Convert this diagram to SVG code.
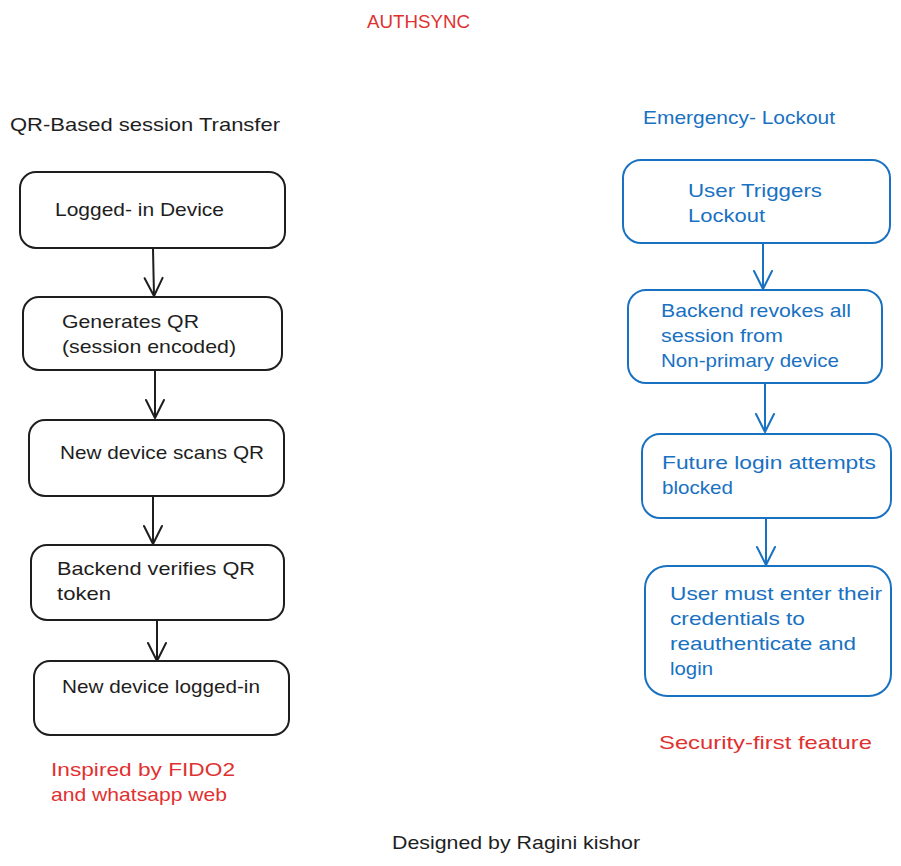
<svg xmlns="http://www.w3.org/2000/svg" width="901" height="866" viewBox="0 0 901 866">
<style>
text{font-family:"Liberation Sans","Noto Sans",sans-serif;font-size:19px;}
.k{fill:#1e1e1e}.b{fill:#1971c2}.r{fill:#e03131}
.bk{fill:#fff;stroke:#1e1e1e;stroke-width:2}
.bb{fill:#fff;stroke:#1971c2;stroke-width:2}
.ck{stroke:#1e1e1e;stroke-width:2;fill:none}
.cb{stroke:#1971c2;stroke-width:2;fill:none}
</style>
<defs>
<marker id="ak" markerUnits="userSpaceOnUse" markerWidth="24" markerHeight="24" viewBox="-21 -12 24 24" refX="0" refY="0" orient="auto">
<path d="M-18,-9 L0,0 L-18,9" fill="none" stroke="#1e1e1e" stroke-width="2" stroke-linecap="round" stroke-linejoin="round"/>
</marker>
<marker id="ab" markerUnits="userSpaceOnUse" markerWidth="24" markerHeight="24" viewBox="-21 -12 24 24" refX="0" refY="0" orient="auto">
<path d="M-18,-9 L0,0 L-18,9" fill="none" stroke="#1971c2" stroke-width="2" stroke-linecap="round" stroke-linejoin="round"/>
</marker>
</defs>
<rect width="901" height="866" fill="#fff"/>
<text class="r" x="367" y="28" textLength="103" lengthAdjust="spacingAndGlyphs">AUTHSYNC</text>
<text class="k" x="10" y="131" textLength="270" lengthAdjust="spacingAndGlyphs">QR-Based session Transfer</text>
<text class="b" x="643" y="124" textLength="192" lengthAdjust="spacingAndGlyphs">Emergency- Lockout</text>

<g id="connectors">
<path class="ck" d="M153,249 L154,296" marker-end="url(#ak)"/>
<path class="ck" d="M155,371 L155,418" marker-end="url(#ak)"/>
<path class="ck" d="M153,497 L153,544" marker-end="url(#ak)"/>
<path class="ck" d="M157,621 L157,661" marker-end="url(#ak)"/>
<path class="cb" d="M763,244 L763,289" marker-end="url(#ab)"/>
<path class="cb" d="M765,384 L765,432" marker-end="url(#ab)"/>
<path class="cb" d="M766,519 L766,565" marker-end="url(#ab)"/>
</g>

<g id="n1"><rect class="bk" x="20" y="172" width="265" height="76" rx="16"/>
<text class="k" x="55" y="216" textLength="169" lengthAdjust="spacingAndGlyphs">Logged- in Device</text></g>
<g id="n2"><rect class="bk" x="23" y="297" width="259" height="73" rx="16"/>
<text class="k" x="62" y="328" textLength="137" lengthAdjust="spacingAndGlyphs">Generates QR</text>
<text class="k" x="62" y="353" textLength="174" lengthAdjust="spacingAndGlyphs">(session encoded)</text></g>
<g id="n3"><rect class="bk" x="29" y="420" width="255" height="76" rx="16"/>
<text class="k" x="60" y="459" textLength="204" lengthAdjust="spacingAndGlyphs">New device scans QR</text></g>
<g id="n4"><rect class="bk" x="31" y="545" width="253" height="75" rx="16"/>
<text class="k" x="57" y="575" textLength="198" lengthAdjust="spacingAndGlyphs">Backend verifies QR</text>
<text class="k" x="57" y="600" textLength="54" lengthAdjust="spacingAndGlyphs">token</text></g>
<g id="n5"><rect class="bk" x="34" y="661" width="255" height="74" rx="16"/>
<text class="k" x="62" y="693" textLength="198" lengthAdjust="spacingAndGlyphs">New device logged-in</text></g>

<g id="m1"><rect class="bb" x="623" y="160" width="267" height="83" rx="18"/>
<text class="b" x="688" y="197" textLength="134" lengthAdjust="spacingAndGlyphs">User Triggers</text>
<text class="b" x="688" y="222" textLength="77" lengthAdjust="spacingAndGlyphs">Lockout</text></g>
<g id="m2"><rect class="bb" x="628" y="290" width="254" height="93" rx="18"/>
<text class="b" x="661" y="317" textLength="190" lengthAdjust="spacingAndGlyphs">Backend revokes all</text>
<text class="b" x="661" y="342" textLength="122" lengthAdjust="spacingAndGlyphs">session from</text>
<text class="b" x="661" y="367" textLength="178" lengthAdjust="spacingAndGlyphs">Non-primary device</text></g>
<g id="m3"><rect class="bb" x="642" y="434" width="249" height="84" rx="18"/>
<text class="b" x="662" y="469" textLength="214" lengthAdjust="spacingAndGlyphs">Future login attempts</text>
<text class="b" x="662" y="494" textLength="71" lengthAdjust="spacingAndGlyphs">blocked</text></g>
<g id="m4"><rect class="bb" x="645" y="566" width="246" height="130" rx="22"/>
<text class="b" x="670" y="600" textLength="212" lengthAdjust="spacingAndGlyphs">User must enter their</text>
<text class="b" x="670" y="625" textLength="135" lengthAdjust="spacingAndGlyphs">credentials to</text>
<text class="b" x="670" y="650" textLength="186" lengthAdjust="spacingAndGlyphs">reauthenticate and</text>
<text class="b" x="670" y="675" textLength="43" lengthAdjust="spacingAndGlyphs">login</text></g>

<text class="r" x="51" y="776" textLength="184" lengthAdjust="spacingAndGlyphs">Inspired by FIDO2</text>
<text class="r" x="51" y="801" textLength="176" lengthAdjust="spacingAndGlyphs">and whatsapp web</text>
<text class="r" x="659" y="749" textLength="213" lengthAdjust="spacingAndGlyphs">Security-first feature</text>
<text class="k" x="392" y="849" textLength="248" lengthAdjust="spacingAndGlyphs">Designed by Ragini kishor</text>
</svg>
